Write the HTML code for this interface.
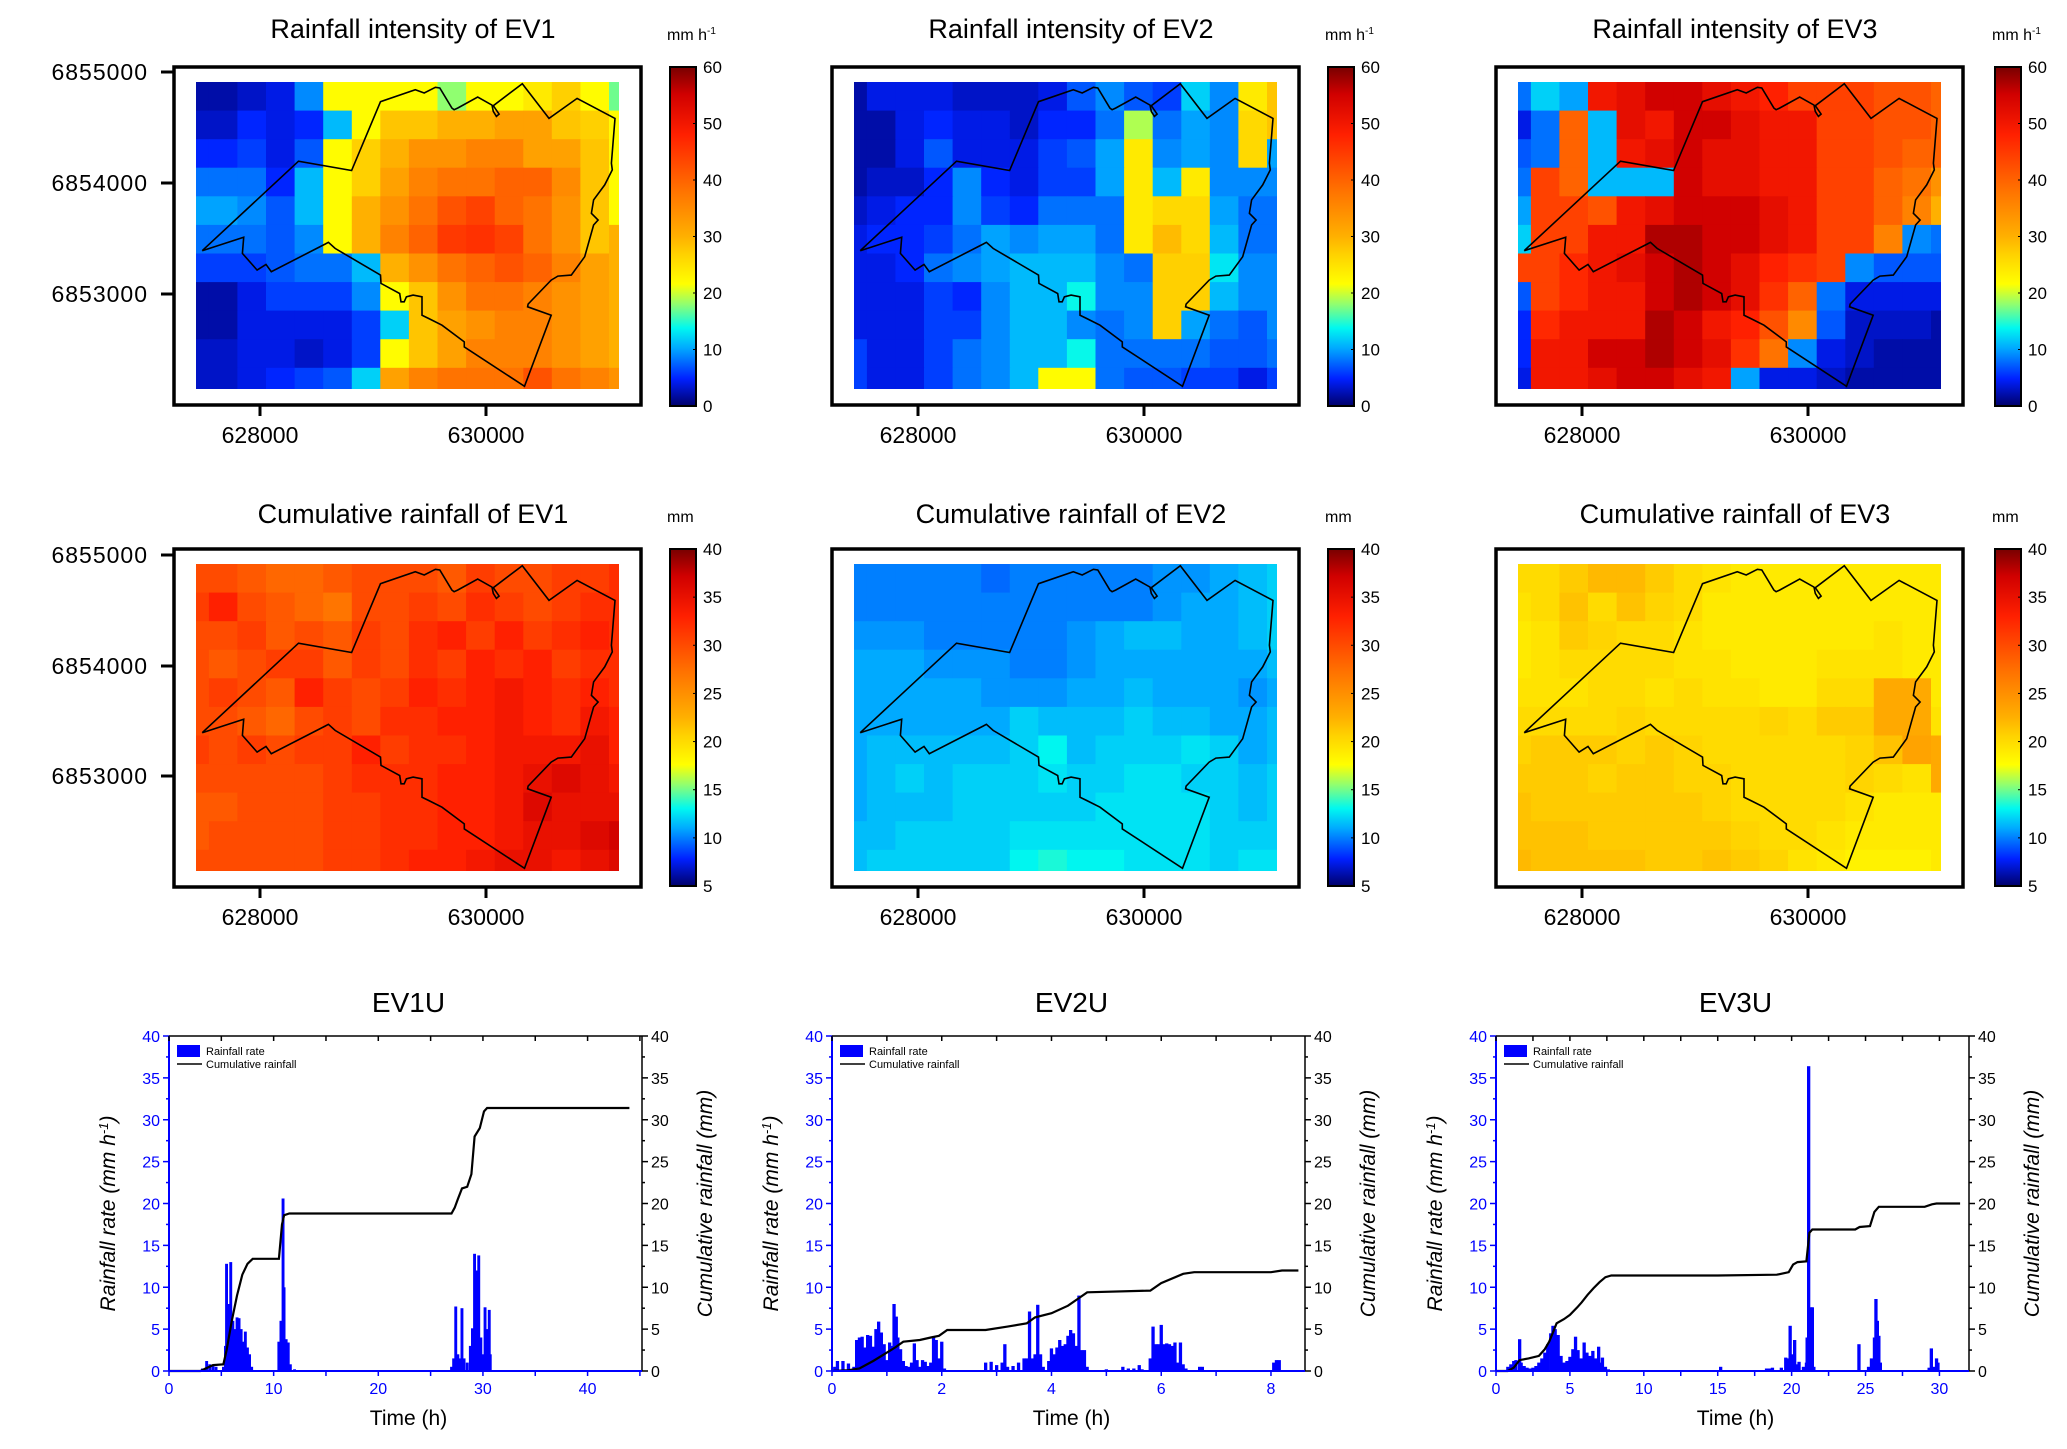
<!DOCTYPE html>
<html><head><meta charset="utf-8"><style>
body{margin:0;background:#fff}
svg{display:block;font-family:"Liberation Sans",Arial,sans-serif}
</style></head><body>
<svg id="fig" xmlns="http://www.w3.org/2000/svg" width="2067" height="1449" viewBox="0 0 2067 1449"></svg>
<script>
// ---------- heatmap data (16 cols x 11 rows) ----------
const ev1Intensity=[
[2,2,3,4,9,22,22,22,22,18,22,22,24,27,22,17],
[3,3,5,4,5,11,22,28,28,30,30,32,32,28,27,22],
[5,5,6,4,7,22,27,30,34,34,36,36,32,32,28,22],
[8,8,8,5,11,22,27,32,36,38,38,40,40,35,28,22],
[10,10,9,7,11,22,30,34,38,42,44,40,38,34,28,22],
[8,8,8,7,9,22,30,36,40,45,46,44,38,34,28,30],
[6,6,6,7,8,8,11,30,34,38,40,42,40,36,32,30],
[2,2,4,6,6,6,9,22,28,34,38,38,36,34,32,30],
[2,2,4,4,4,4,6,12,28,32,34,36,36,34,32,30],
[3,3,4,4,3,4,6,22,28,32,36,36,36,34,32,30],
[3,3,4,5,6,7,12,32,36,38,38,38,42,38,36,34]];
const ev2Intensity=[
[2,4,4,4,3,3,3,4,7,9,7,6,12,9,24,28],
[2,2,4,5,4,4,3,5,5,8,19,8,10,9,26,28],
[2,2,4,7,4,4,4,6,7,10,24,9,10,9,26,10],
[2,3,3,5,9,5,4,6,6,10,24,11,24,9,9,9],
[3,4,5,5,9,6,5,8,8,8,24,26,26,10,8,8],
[4,5,5,6,8,10,9,10,10,8,24,29,26,11,8,8],
[4,4,5,8,9,10,11,11,11,9,8,27,27,13,9,9],
[4,4,4,6,5,9,11,11,14,9,9,27,27,11,9,9],
[4,4,4,6,6,9,11,11,9,8,9,27,10,8,7,9],
[6,4,4,6,8,9,11,11,14,8,8,8,8,7,7,8],
[6,4,4,6,8,9,11,22,22,8,7,7,6,6,4,6]];
const ev3Intensity=[
[8,12,10,50,52,55,55,52,50,48,44,44,44,42,42,40],
[4,8,40,11,52,50,55,55,52,50,50,44,44,42,42,40],
[7,8,40,11,50,52,55,52,52,50,50,44,44,42,40,40],
[8,44,40,11,11,11,55,52,52,50,50,44,44,40,38,34],
[10,44,44,42,50,52,55,55,55,52,50,44,44,40,36,30],
[12,44,44,50,50,57,57,55,55,52,50,44,44,36,9,8],
[44,44,47,50,52,55,57,55,52,48,46,44,9,7,7,7],
[7,44,47,50,50,55,57,55,52,46,40,8,4,4,4,4],
[5,47,50,50,50,57,55,50,48,42,35,7,3,3,3,2],
[5,50,50,55,55,57,55,52,46,38,9,4,3,2,2,2],
[4,50,50,52,55,55,52,50,10,4,4,3,2,2,2,2]];
const ev1Cumulative=[
[30,30,29,28,28,29,30,30,30,29,31,30,30,31,31,32],
[31,33,30,29,28,27,30,30,31,30,32,31,30,31,32,32],
[30,30,31,29,30,29,31,30,32,33,31,33,31,32,33,32],
[30,29,30,31,31,29,31,30,32,31,33,32,33,31,32,32],
[30,31,30,29,33,31,30,31,33,32,33,34,33,32,33,32],
[30,30,29,28,30,31,30,32,32,33,33,34,33,32,34,33],
[31,30,31,30,31,31,33,31,32,32,33,34,34,34,35,33],
[30,30,30,30,30,31,32,32,32,33,33,34,35,36,35,34],
[29,29,30,30,30,31,31,32,32,33,33,34,36,35,35,35],
[29,30,30,30,30,31,31,32,32,33,33,34,35,35,36,37],
[30,30,30,30,30,31,31,32,33,33,34,35,35,34,35,36]];
const ev2Cumulative=[
[10,10,10,10,10,9.5,10,10,10,10,10,10.5,10.5,11,11.5,12],
[10,10,10,10,10,10,10,10,10,10,10,10.5,11,11,11.5,12],
[10.5,10.5,10.5,10,10,10,10,10,10.5,11,11.5,11.5,11,11,11.5,12],
[11,11,11,10.5,10.5,10.5,10,10,10.5,11,11,11,11,11,11,11.5],
[11,11,11,11,11,10.5,10.5,10.5,11,11,11.5,11,11,11,10.5,11],
[11,11,11,11,11,11,12,11.5,11.5,11.5,12,11.5,11.5,11,11,11.5],
[11,11.5,11.5,11.5,11.5,11.5,12,13,11.5,12,12,12,12.5,12,11,11.5],
[11,11.5,12,11.5,12,12,12,12.5,12,12,12.5,12.5,12,12,11.5,12],
[11,11.5,11.5,11.5,12,12,12,12,12,12.5,12.5,12.5,12.5,12,11.5,12],
[11.5,11.5,12,12,12,12,12.5,12.5,12.5,12.5,12.5,12.5,12.5,12,12,12],
[11.5,12,12,12,12,12,13,13.5,13,13,12.5,12.5,12.5,12,12.5,12.5]];
const ev3Cumulative=[
[20,20,21,22,22,21,20,19.5,19,19,19,19,19,19,19,19],
[19.5,20,21.5,20,21.5,20.5,20,19,19,19,19,19,19,19,19,19],
[19,19.5,21,20.5,20,20,19.5,19,19,19,19,19,19,19.5,19,19],
[19,19.5,20,20,20,20,19.5,19.5,19,19,19,19.5,19.5,19.5,19,19],
[19.5,19.5,19.5,20,20,19.5,20,19.5,19.5,19,19,20,20,23,23,19],
[20,20,20,20,20.5,20,20,20,20,20.5,20,21,21,23,23,19.5],
[20.5,21,21,21,20.5,21,20.5,20,20,20,20,20,20.5,21.5,23.5,23],
[21,21,21,20.5,21,21,20.5,20.5,20,20,20,20,20.5,20,19.5,23],
[21.5,21,21,21,21,21,21,20.5,20,20,20,20,19.5,19,19,19],
[21.5,21.5,21.5,21,21,21,21,21,20.5,20,20,19.5,19,19,19,19],
[22,21.5,21.5,21.5,21.5,21,21,21.5,21,20.5,19.5,19,18.5,18.5,18.5,19]];
const intensityTicks=[0,10,20,30,40,50,60];
const cumulativeTicks=[5,10,15,20,25,30,35,40];
const northingLabels=["6855000","6854000","6853000"];
const eastingLabels=["628000","630000"];
const outlineX=[452,668,787,852,930,950,975,985,1012,1017,1025,1070,1102,1105,1112,1118,1105,1170,1230,1293,1378,1370,1372,1355,1330,1325,1340,1330,1310,1280,1250,1235,1183,1182,1235,1175,1040,1040,990,960,945,945,925,910,905,898,895,853,852,750,735,728,607,595,575,542,545,452];
const outlineY=[752,484,512,306,270,280,263,265,325,330,325,292,316,335,350,343,318,252,356,296,356,490,510,555,600,640,660,675,770,825,828,840,912,920,945,1158,1040,1025,975,955,945,890,885,890,905,905,880,850,825,745,727,732,815,793,810,760,712,752];

// ---------- time-series data ----------
const ev1uTime=[3.2,3.6,3.9,4.2,4.5,5.2,5.4,5.5,5.7,5.9,6.1,6.3,6.5,6.7,6.9,7.1,7.3,7.5,7.7,7.9,10.5,10.7,10.9,11.0,11.2,11.4,11.6,12.0,27.0,27.2,27.4,27.6,27.8,28.0,28.2,28.5,28.8,29.0,29.2,29.4,29.6,29.8,30.0,30.2,30.4,30.6,30.7];
const ev1uRate=[0.3,1.2,0.8,0.6,0.5,0.5,3,12.8,8,13,6,5,6.4,6.3,5,3.5,4.7,2.8,2.0,0.5,3.5,6,20.6,10,3.8,3.4,0.8,0.2,0.5,1.5,7.7,2,1.5,7.5,1.5,1.0,3,5.1,14,12,13.8,4,2,7.6,5,7.3,2.0];
const ev1uCumT=[0,3,3.5,4.2,5.2,5.5,6,6.5,7,7.5,8,10.5,10.8,11,11.5,27,27.3,27.6,28,28.5,28.9,29.2,29.7,30.1,30.4,44];
const ev1uCumV=[0,0,0.3,0.7,0.8,2.5,6,9,11.5,12.8,13.4,13.4,17.5,18.6,18.8,18.8,19.5,20.5,21.8,22,23.5,28,29,31,31.4,31.4];
const ev2uTime=[0.05,0.1,0.2,0.3,0.4,0.45,0.5,0.55,0.6,0.65,0.7,0.75,0.8,0.85,0.9,0.95,1.0,1.05,1.1,1.13,1.17,1.2,1.25,1.3,1.35,1.4,1.45,1.5,1.55,1.6,1.65,1.7,1.75,1.8,1.85,1.9,1.95,2.0,2.05,2.8,2.9,3.0,3.1,3.15,3.2,3.3,3.4,3.5,3.55,3.6,3.65,3.7,3.75,3.8,3.85,3.95,4.0,4.05,4.1,4.15,4.2,4.25,4.3,4.35,4.4,4.45,4.5,4.55,4.6,4.65,5.0,5.3,5.4,5.5,5.6,5.65,5.8,5.85,5.9,5.95,6.0,6.05,6.1,6.15,6.2,6.25,6.3,6.35,6.4,6.45,6.7,6.75,8.05,8.1,8.15];
const ev2uRate=[0.5,1.2,1.2,0.9,0.5,3.7,4.0,4.1,2.8,4.3,4.2,2.9,5.0,5.9,4.6,3.2,1.3,3.4,3.0,8.0,6.5,4.0,2.6,1.2,0.6,0.5,1.0,3.3,1.3,0.5,1.3,1.1,0.6,1.0,4.0,3.7,1.5,3.5,0.3,1.0,1.1,0.7,1.0,3.2,0.5,0.6,1.0,1.5,1.5,7.1,1.5,2.0,7.9,2.0,0.5,1.2,2.7,2.0,2.8,3.7,3.0,3.2,4.2,4.9,4.5,3.0,9.0,2.5,2.5,0.5,0.2,0.5,0.3,0.3,0.7,0.2,1.5,5.3,3.2,3.2,5.5,3.2,3.3,3.2,3.0,3.4,1.0,3.4,0.8,0.3,0.5,0.5,1.0,1.3,1.3];
const ev2uCumT=[0,0.3,0.5,0.75,1.0,1.15,1.3,1.6,1.8,1.95,2.1,2.8,3.2,3.55,3.7,4.0,4.3,4.5,4.65,5.8,6.0,6.4,6.6,8.0,8.2,8.5];
const ev2uCumV=[0,0.1,0.3,1.2,2.2,2.8,3.5,3.7,4.0,4.2,4.9,4.9,5.3,5.7,6.4,6.9,7.8,8.7,9.4,9.6,10.5,11.6,11.8,11.8,12.0,12.0];
const ev3uTime=[0.8,1.0,1.2,1.35,1.6,1.7,1.9,2.1,2.3,2.5,2.7,2.9,3.1,3.3,3.5,3.7,3.85,4.0,4.2,4.4,4.6,4.8,5.0,5.2,5.38,5.55,5.75,5.96,6.15,6.35,6.55,6.75,6.94,7.1,7.2,7.4,7.6,15.2,18.3,18.5,18.7,19.3,19.6,19.75,19.9,20.05,20.2,20.4,20.5,20.8,21.0,21.05,21.15,21.3,21.4,21.5,24.55,25.2,25.4,25.6,25.7,25.8,25.9,26.0,29.3,29.45,29.6,29.8,29.9];
const ev3uRate=[0.5,0.8,1.2,1.3,3.8,1.0,0.6,0.4,0.3,0.4,0.6,1.0,1.5,2.2,3.2,4.5,5.4,5.0,4.3,1.8,1.0,1.2,1.7,2.6,4.1,2.5,1.5,3.4,2.2,1.8,2.4,1.5,2.9,1.0,1.6,0.5,0.2,0.5,0.3,0.3,0.4,0.4,1.6,1.5,5.4,2,3.7,0.8,1.1,0.5,1,4,36.4,7.6,7.6,0.5,3.2,0.5,1.5,4,8.6,6,4.2,1,0.4,2.7,0.5,1.5,1.0];
const ev3uCumT=[0,0.8,1.2,1.6,2.2,2.9,3.3,3.6,3.9,4.1,4.6,5.0,5.5,5.8,6.2,6.6,7.0,7.4,7.8,15,19,19.8,20.1,20.4,21.0,21.2,21.4,24.3,24.6,25.3,25.6,25.9,29.0,29.5,29.8,31.4];
const ev3uCumV=[0,0,0.4,1.3,1.5,1.8,2.6,3.5,4.8,5.7,6.2,6.7,7.6,8.2,9.1,9.9,10.6,11.2,11.4,11.4,11.5,11.8,12.7,13.0,13.1,16.5,16.9,16.9,17.2,17.3,19.0,19.6,19.6,19.9,20.0,20.0];
const rateTicks=[0,5,10,15,20,25,30,35,40];

// ---------- helpers ----------
const NS="http://www.w3.org/2000/svg";
const svg=document.getElementById('fig');
function mk(tag,attrs,parent){const e=document.createElementNS(NS,tag);for(const k in attrs)e.setAttribute(k,attrs[k]);(parent||svg).appendChild(e);return e;}
function txt(s,attrs,parent){const e=mk('text',attrs,parent);e.textContent=s;return e;}
const stops=[[0,'#00006a'],[0.08,'#0020ff'],[0.17,'#00a8ff'],[0.23,'#00f8f0'],[0.3,'#90ff70'],[0.36,'#ffff00'],[0.45,'#ffd000'],[0.5,'#ffb000'],[0.64,'#ff7000'],[0.8,'#ff2000'],[0.92,'#d00000'],[1,'#780000']];
function hex(h){return [1,3,5].map(i=>parseInt(h.substr(i,2),16));}
function cmap(t){t=Math.max(0,Math.min(1,t));for(let i=1;i<stops.length;i++){if(t<=stops[i][0]){const a=stops[i-1],b=stops[i];const f=(t-a[0])/(b[0]-a[0]);const ca=hex(a[1]),cb=hex(b[1]);return 'rgb('+ca.map((v,j)=>Math.round(v+(cb[j]-v)*f)).join(',')+')';}}return stops[stops.length-1][1];}
const defs=mk('defs',{});
const lg=mk('linearGradient',{id:'jet',x1:0,y1:1,x2:0,y2:0},defs);
stops.forEach(s=>mk('stop',{offset:s[0],'stop-color':s[1]},lg));

// ---------- map panels ----------
const colX=[0,658,1322];
const rows=[{top:67,bot:405,hTop:82,hBot:389,title:29,ticks:[72,183,294],xl:435,cbTop:67,cbBot:406},
            {top:549,bot:887,hTop:564,hBot:871,title:514,ticks:[555,666,776],xl:917,cbTop:549,cbBot:886}];
const panels=[
 {r:0,c:0,d:ev1Intensity,t:'Rainfall intensity of EV1',min:0,max:60,tk:intensityTicks,unit:'mm h',sup:'-1',n:'ev1-intensity'},
 {r:0,c:1,d:ev2Intensity,t:'Rainfall intensity of EV2',min:0,max:60,tk:intensityTicks,unit:'mm h',sup:'-1',n:'ev2-intensity'},
 {r:0,c:2,d:ev3Intensity,t:'Rainfall intensity of EV3',min:0,max:60,tk:intensityTicks,unit:'mm h',sup:'-1',n:'ev3-intensity'},
 {r:1,c:0,d:ev1Cumulative,t:'Cumulative rainfall of EV1',min:5,max:40,tk:cumulativeTicks,unit:'mm',sup:'',n:'ev1-cumulative'},
 {r:1,c:1,d:ev2Cumulative,t:'Cumulative rainfall of EV2',min:5,max:40,tk:cumulativeTicks,unit:'mm',sup:'',n:'ev2-cumulative'},
 {r:1,c:2,d:ev3Cumulative,t:'Cumulative rainfall of EV3',min:5,max:40,tk:cumulativeTicks,unit:'mm',sup:'',n:'ev3-cumulative'}];
panels.forEach((p,pi)=>{
  const R=rows[p.r],ox=colX[p.c];
  const g=mk('g',{});
  
  
  const hl=196+ox,hr=619+ox,ht=R.hTop,hb=R.hBot;
  const cp=mk('clipPath',{id:'cp'+pi},defs);mk('rect',{x:hl,y:ht,width:hr-hl,height:hb-ht},cp);
  const cells=mk('g',{'clip-path':'url(#cp'+pi+')'},g);
  const s=(hr-hl)/14.8;
  p.d.forEach((row,ri)=>row.forEach((v,ci)=>{
    const c=mk('rect',{x:(hl+(ci-0.55)*s).toFixed(1),y:(ht+ri*s).toFixed(1),width:(s+0.6).toFixed(1),height:(s+0.6).toFixed(1),fill:cmap((v-p.min)/(p.max-p.min))},cells);
    
    
  }));
  const pts=outlineX.map((x,i)=>((hl+(x-438)/949*(hr-hl)).toFixed(1))+','+((ht+(outlineY[i]-247)/919*(hb-ht)).toFixed(1))).join(' ');
  const ol=mk('polyline',{points:pts,fill:'none',stroke:'#000','stroke-width':1.6},g);
  
  
  const fr=mk('rect',{x:174+ox,y:R.top,width:467,height:R.bot-R.top,fill:'none',stroke:'#000','stroke-width':3.5},g);
  
  
  const tt=txt(p.t,{x:413+ox,y:R.title+9,'text-anchor':'middle','font-size':27,fill:'#000'},g);
  
  
  [260,486].forEach((x,i)=>{mk('line',{x1:x+ox,x2:x+ox,y1:R.bot,y2:R.bot+11,stroke:'#000','stroke-width':3},g);
    const l=txt(eastingLabels[i],{x:x+ox,y:R.xl+8,'text-anchor':'middle','font-size':23},g);
    
    });
  if(p.c===0){R.ticks.forEach((y,i)=>{mk('line',{x1:161,x2:174,y1:y,y2:y,stroke:'#000','stroke-width':3},g);
    const l=txt(northingLabels[i],{x:148,y:y+8,'text-anchor':'end','font-size':23,'letter-spacing':1},g);
    
    });}
  const cbx=670+ox+(p.c===2?3:0);
  const cb=mk('rect',{x:cbx,y:R.cbTop,width:26,height:R.cbBot-R.cbTop,fill:'url(#jet)',stroke:'#000','stroke-width':2},g);
  
  
  p.tk.forEach(v=>{const y=R.cbBot-(v-p.min)/(p.max-p.min)*(R.cbBot-R.cbTop);
    mk('line',{x1:cbx+23,x2:cbx+26,y1:y,y2:y,stroke:'#000'},g);
    const l=txt(String(v),{x:cbx+33,y:y+6,'font-size':17},g);
    
    });
  const u=txt(p.unit,{x:cbx-3,y:R.cbTop-27,'font-size':16},g);
  if(p.sup){const ts=mk('tspan',{dy:-6,'font-size':10},u);ts.textContent=p.sup;}
  
  
});

// ---------- time-series charts ----------
const charts=[
 {ox:0,xmax:45.2,xt:[0,10,20,30,40],xm:5,bw:0.28,t:ev1uTime,v:ev1uRate,ct:ev1uCumT,cv:ev1uCumV,title:'EV1U',n:'ev1u'},
 {ox:663,xmax:8.62,xt:[0,2,4,6,8],xm:1,bw:0.06,t:ev2uTime,v:ev2uRate,ct:ev2uCumT,cv:ev2uCumV,title:'EV2U',n:'ev2u'},
 {ox:1327,xmax:32,xt:[0,5,10,15,20,25,30],xm:2.5,bw:0.22,t:ev3uTime,v:ev3uRate,ct:ev3uCumT,cv:ev3uCumV,title:'EV3U',n:'ev3u'}];
charts.forEach(ch=>{
  const L=169+ch.ox,Rr=642+ch.ox,T=1036,B=1371;
  const g=mk('g',{});
  
  
  const X=t=>L+t/ch.xmax*(Rr-L), Y=v=>B-v/40*(B-T);
  const bw=Math.max(1.2,ch.bw/ch.xmax*(Rr-L));
  ch.t.forEach((t,i)=>{const b=mk('rect',{x:(X(t)-bw/2).toFixed(1),y:Y(ch.v[i]).toFixed(1),width:bw.toFixed(1),height:(B-Y(ch.v[i])).toFixed(1),fill:'#0000ff'},g);
    
    });
  const ln=mk('polyline',{points:ch.ct.map((t,i)=>X(t).toFixed(1)+','+Y(ch.cv[i]).toFixed(1)).join(' '),fill:'none',stroke:'#000','stroke-width':2.2},g);
  
  
  mk('line',{x1:L,x2:Rr,y1:T,y2:T,stroke:'#000','stroke-width':1.5},g);
  mk('line',{x1:Rr,x2:Rr,y1:T,y2:B,stroke:'#000','stroke-width':1.5},g);
  mk('line',{x1:L,x2:L,y1:T,y2:B,stroke:'#0000ff','stroke-width':2},g);
  mk('line',{x1:L,x2:Rr,y1:B,y2:B,stroke:'#0000ff','stroke-width':2},g);
  for(let v=0;v<=40.01;v+=2.5){const y=Y(v),mj=(v%5===0);
    mk('line',{x1:L-(mj?6:3),x2:L,y1:y,y2:y,stroke:'#0000ff','stroke-width':1.5},g);
    mk('line',{x1:Rr,x2:Rr+(mj?6:3),y1:y,y2:y,stroke:'#000','stroke-width':1.5},g);}
  rateTicks.forEach(v=>{
    const a=txt(String(v),{x:L-9,y:Y(v)+6,'text-anchor':'end','font-size':16,fill:'#0000ff'},g);
    
    
    const b=txt(String(v),{x:Rr+9,y:Y(v)+6,'font-size':16,fill:'#000'},g);
    
    });
  for(let t=0;t<=ch.xmax+1e-6;t+=ch.xm){const x=X(t);
    mk('line',{x1:x,x2:x,y1:B,y2:B+5,stroke:'#0000ff','stroke-width':1.5},g);
    mk('line',{x1:x,x2:x,y1:T,y2:T+5,stroke:'#000','stroke-width':1.5},g);}
  ch.xt.forEach(t=>{const l=txt(String(t),{x:X(t),y:B+23,'text-anchor':'middle','font-size':16,fill:'#0000ff'},g);
    
    });
  const ti=txt(ch.title,{x:(L+Rr)/2+3,y:1012,'text-anchor':'middle','font-size':28},g);
  
  
  const xl=txt('Time (h)',{x:(L+Rr)/2+3,y:1425,'text-anchor':'middle','font-size':21},g);
  
  
  const yl=txt('Rainfall rate (mm h',{transform:'translate('+(L-54)+','+((T+B)/2+10)+') rotate(-90)','text-anchor':'middle','font-size':21,'font-style':'italic'},g);
  const s1=mk('tspan',{dy:-7,'font-size':13},yl);s1.textContent='-1';
  const s2=mk('tspan',{dy:7},yl);s2.textContent=')';
  
  
  const yr=txt('Cumulative rainfall (mm)',{transform:'translate('+(Rr+70)+','+((T+B)/2)+') rotate(-90)','text-anchor':'middle','font-size':21,'font-style':'italic'},g);
  
  
  const lr=mk('rect',{x:L+8,y:1045,width:23,height:12,fill:'#0000ff'},g);
  
  
  const lt1=txt('Rainfall rate',{x:L+37,y:1055,'font-size':11},g);
  
  
  const ll=mk('line',{x1:L+8,x2:L+33,y1:1064,y2:1064,stroke:'#000','stroke-width':1.5},g);
  
  
  const lt2=txt('Cumulative rainfall',{x:L+37,y:1068,'font-size':11},g);
  
  
});
</script>
</body></html>
